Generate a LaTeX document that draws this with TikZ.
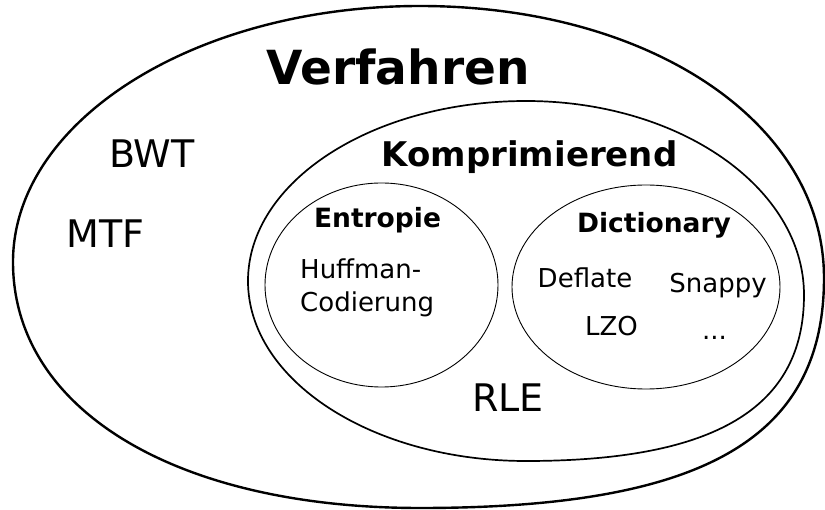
\documentclass[tikz,border=0pt]{standalone}
\usepackage{fontspec}
\setmainfont{DejaVu Sans}

\begin{document}
\begin{tikzpicture}[x=1pt, y=-1pt,
    verfline/.style={line width=2.4pt},
    kompline/.style={line width=1.7pt},
    subline/.style={line width=0.9pt},
    biglabel/.style={anchor=base, inner sep=0pt, font=\fontsize{38}{46}\selectfont},
    smalllabel/.style={anchor=base, inner sep=0pt, font=\fontsize{26}{32.5}\selectfont},
    sethead/.style={anchor=base, inner sep=0pt, font=\bfseries\fontsize{26.5}{32}\selectfont}]
    \useasboundingbox (0,0) rectangle (825,510);

    % Verfahren
    \draw[verfline] (13,262)
        .. controls (13,120.7) and (195.3,6) .. (420,6)
        .. controls (650.3,6) and (824,123) .. (824,278)
        .. controls (824,439) and (702.8,508) .. (420,508)
        .. controls (175.8,508) and (13,409.6) .. cycle;
    \node[anchor=base, inner sep=0pt, font=\bfseries\fontsize{47}{56}\selectfont]
        (verfahren) at (398,85) {Verfahren};
    \node[biglabel] (bwt) at (152,168) {BWT};
    \node[biglabel] (mtf) at (105.5,248) {MTF};

    % Komprimierend
    \draw[kompline] (248,281)
        .. controls (248,181.6) and (372.5,101) .. (526,101)
        .. controls (679.5,101) and (804,187.9) .. (804,295)
        .. controls (804,407.9) and (715,461) .. (526,461)
        .. controls (372.5,461) and (248,380.4) .. cycle;
    \node[anchor=base, inner sep=0pt, font=\bfseries\fontsize{34}{41}\selectfont]
        (kompr) at (529.5,167) {Komprimierend};
    \node[biglabel] (rle) at (508,412) {RLE};

    % Entropie
    \draw[subline] (381.5,285) ellipse [x radius=116.5, y radius=102];
    \node[sethead] (entropie) at (377.5,228) {Entropie};
    \node[smalllabel, anchor=base west, align=left] (huffman) at (300,311.5)
        {Huffman-\\Codierung};

    % Dictionary
    \draw[subline] (646,287) ellipse [x radius=134, y radius=102];
    \node[sethead] (dict) at (654,233) {Dictionary};
    \node[smalllabel] (deflate) at (585,288) {Deflate};
    \node[smalllabel] (snappy) at (718,293) {Snappy};
    \node[smalllabel] (lzo) at (611.5,336) {LZO};
    \node[smalllabel] (more) at (714.5,340) {...};
\end{tikzpicture}
\end{document}
